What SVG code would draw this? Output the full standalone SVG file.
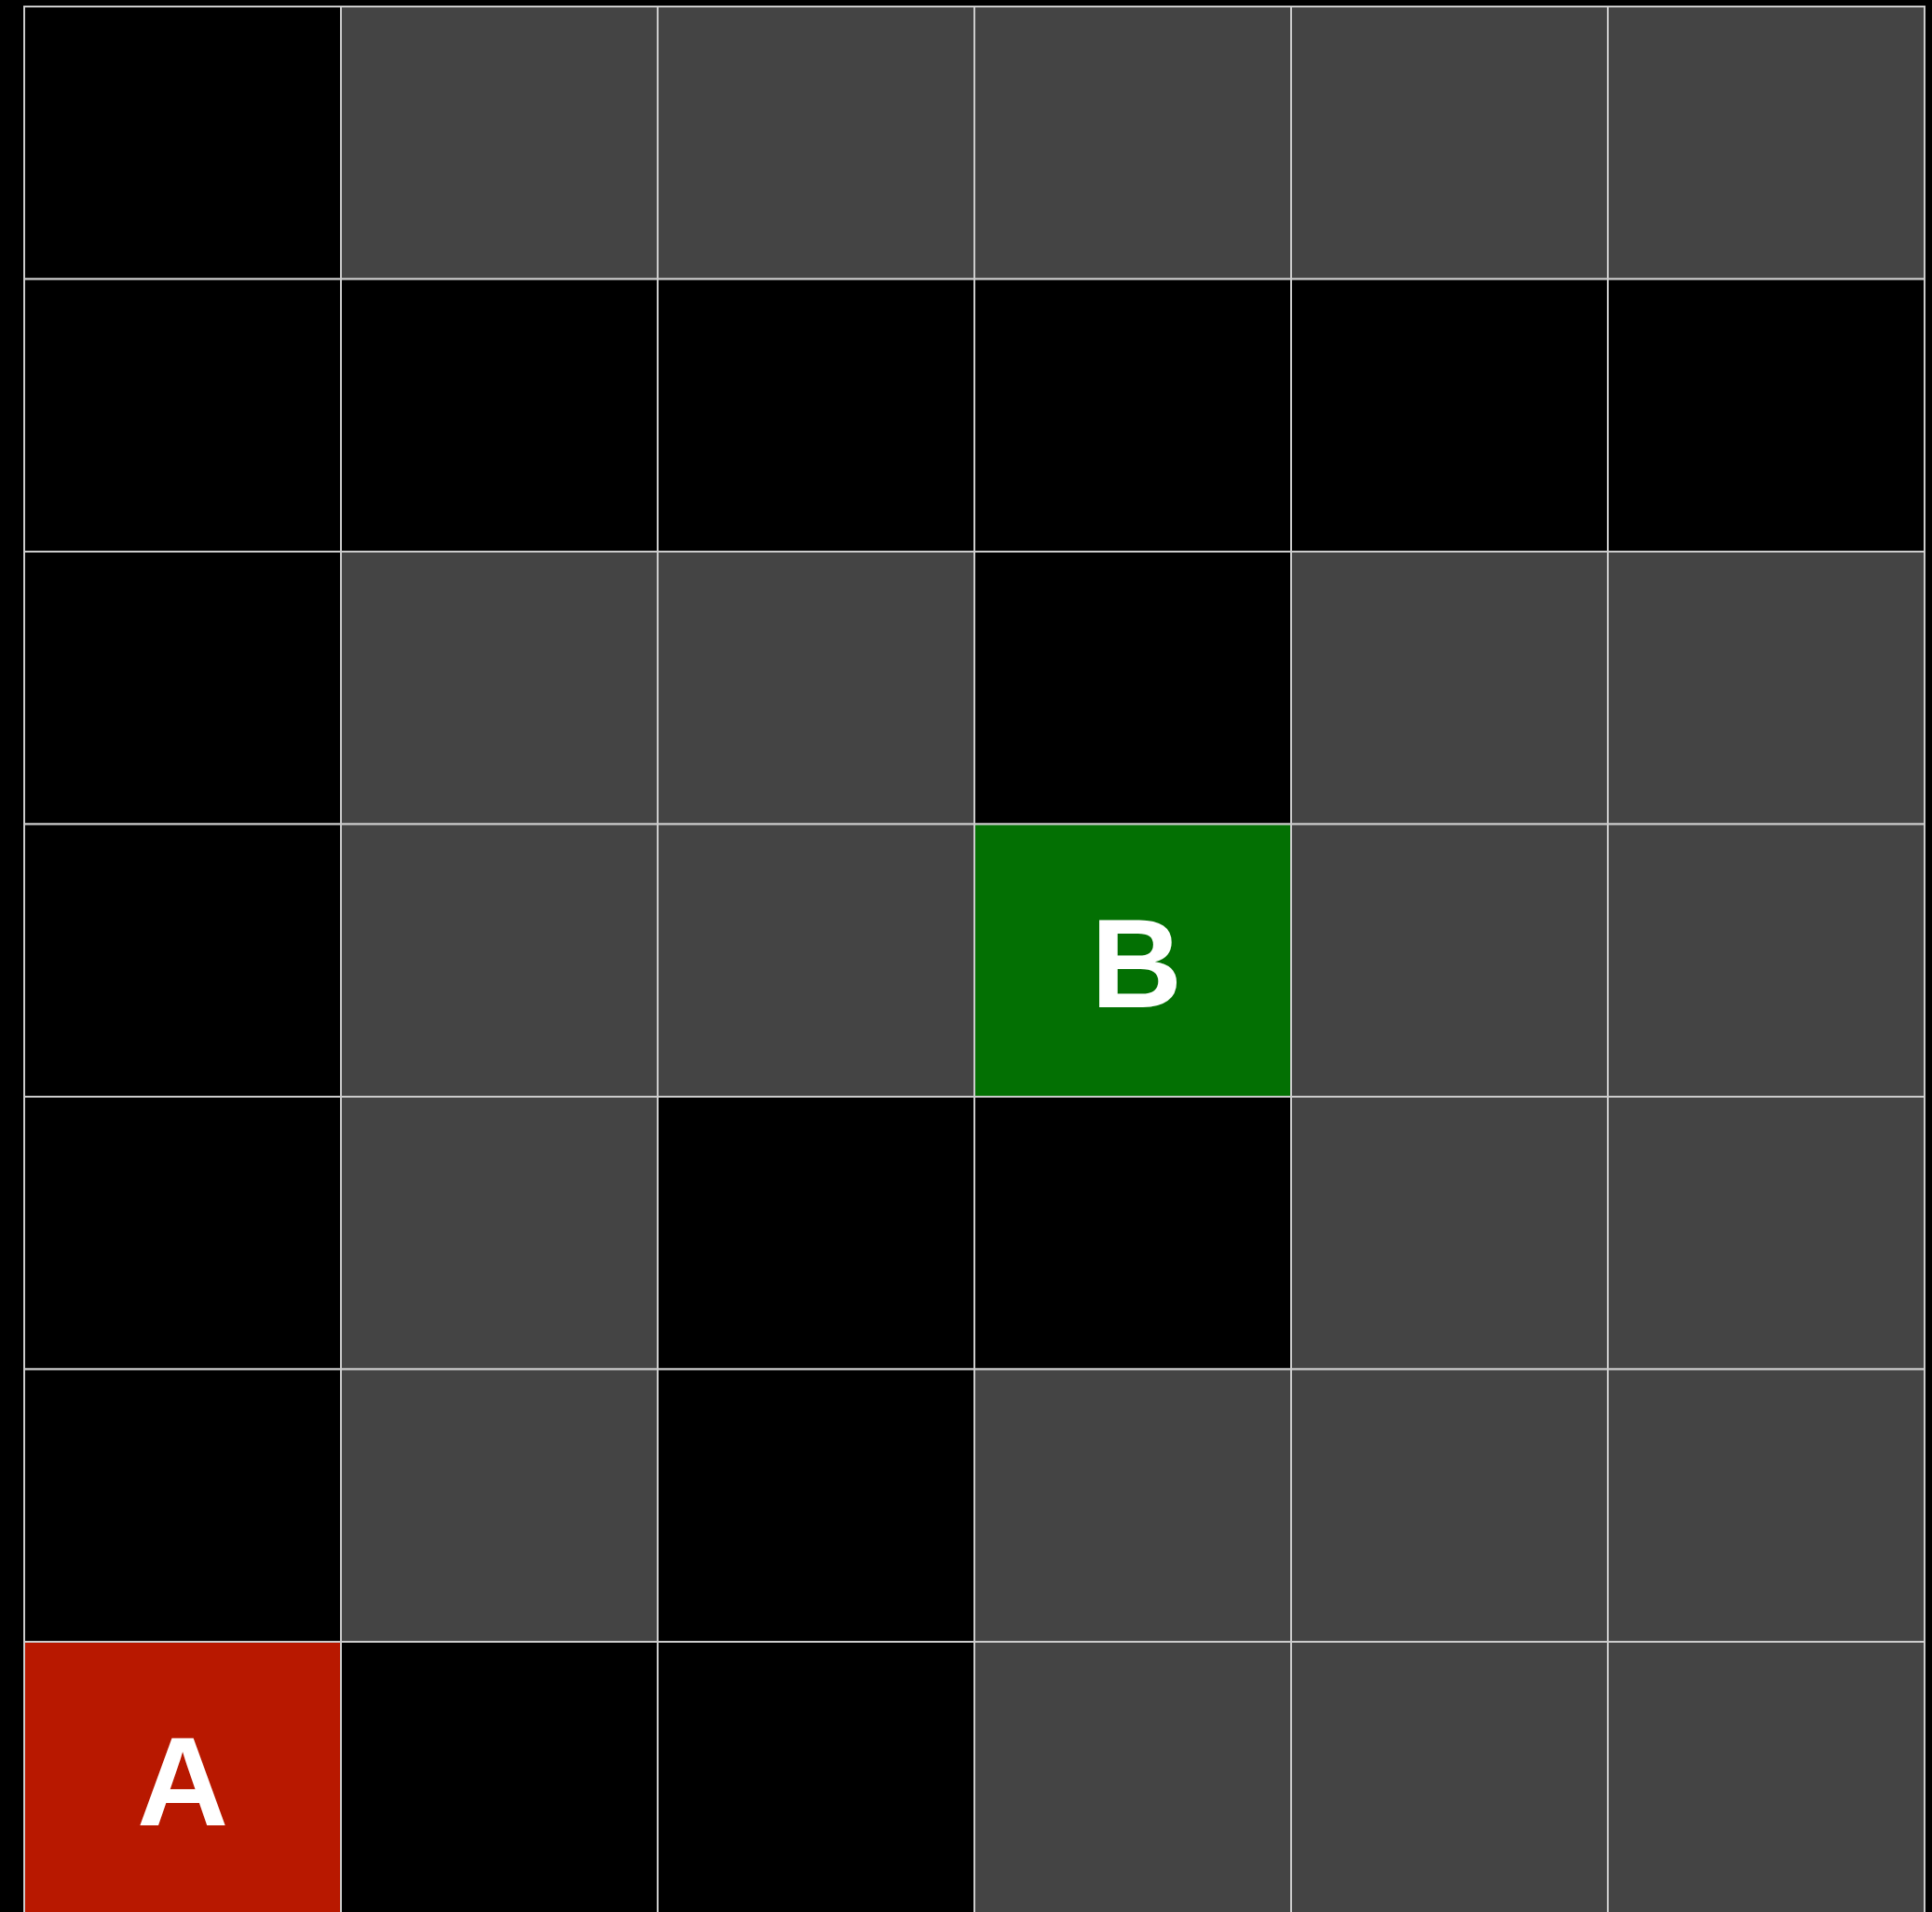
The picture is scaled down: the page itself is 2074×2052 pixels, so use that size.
<svg xmlns="http://www.w3.org/2000/svg" width="2074" height="2052" viewBox="0 0 2074 2052">
<style>
.c{stroke:#cccccc;stroke-width:2}
.k{fill:#000000}
.g{fill:#444444}
.r{fill:#b81800}
.gr{fill:#037003}
.t{font-family:"Liberation Sans",Arial,sans-serif;font-weight:bold;font-size:136px;fill:#ffffff;text-anchor:middle}
</style>
<rect x="0" y="0" width="2074" height="2052" fill="#000000"/>
<g id="row0">
<rect class="c k" x="26" y="7" width="340" height="292.5"/>
<rect class="c g" x="366" y="7" width="340" height="292.5"/>
<rect class="c g" x="706" y="7" width="340" height="292.5"/>
<rect class="c g" x="1046" y="7" width="340" height="292.5"/>
<rect class="c g" x="1386" y="7" width="340" height="292.5"/>
<rect class="c g" x="1726" y="7" width="340" height="292.5"/>
</g>
<g id="row1">
<rect class="c k" x="26" y="299.5" width="340" height="292.5"/>
<rect class="c k" x="366" y="299.5" width="340" height="292.5"/>
<rect class="c k" x="706" y="299.5" width="340" height="292.5"/>
<rect class="c k" x="1046" y="299.5" width="340" height="292.5"/>
<rect class="c k" x="1386" y="299.5" width="340" height="292.5"/>
<rect class="c k" x="1726" y="299.5" width="340" height="292.5"/>
</g>
<g id="row2">
<rect class="c k" x="26" y="592" width="340" height="292.5"/>
<rect class="c g" x="366" y="592" width="340" height="292.5"/>
<rect class="c g" x="706" y="592" width="340" height="292.5"/>
<rect class="c k" x="1046" y="592" width="340" height="292.5"/>
<rect class="c g" x="1386" y="592" width="340" height="292.5"/>
<rect class="c g" x="1726" y="592" width="340" height="292.5"/>
</g>
<g id="row3">
<rect class="c k" x="26" y="884.5" width="340" height="292.5"/>
<rect class="c g" x="366" y="884.5" width="340" height="292.5"/>
<rect class="c g" x="706" y="884.5" width="340" height="292.5"/>
<rect class="c g" x="1386" y="884.5" width="340" height="292.5"/>
<rect class="c g" x="1726" y="884.5" width="340" height="292.5"/>
</g>
<g id="nodeB">
<rect class="c gr" x="1046" y="884.5" width="340" height="292.5"/>
<text class="t" x="1220" y="1081">B</text>
</g>
<g id="row4">
<rect class="c k" x="26" y="1177" width="340" height="292.5"/>
<rect class="c g" x="366" y="1177" width="340" height="292.5"/>
<rect class="c k" x="706" y="1177" width="340" height="292.5"/>
<rect class="c k" x="1046" y="1177" width="340" height="292.5"/>
<rect class="c g" x="1386" y="1177" width="340" height="292.5"/>
<rect class="c g" x="1726" y="1177" width="340" height="292.5"/>
</g>
<g id="row5">
<rect class="c k" x="26" y="1469.5" width="340" height="292.5"/>
<rect class="c g" x="366" y="1469.5" width="340" height="292.5"/>
<rect class="c k" x="706" y="1469.5" width="340" height="292.5"/>
<rect class="c g" x="1046" y="1469.5" width="340" height="292.5"/>
<rect class="c g" x="1386" y="1469.5" width="340" height="292.5"/>
<rect class="c g" x="1726" y="1469.5" width="340" height="292.5"/>
</g>
<g id="row6">
<rect class="c k" x="366" y="1762" width="340" height="292.5"/>
<rect class="c k" x="706" y="1762" width="340" height="292.5"/>
<rect class="c g" x="1046" y="1762" width="340" height="292.5"/>
<rect class="c g" x="1386" y="1762" width="340" height="292.5"/>
<rect class="c g" x="1726" y="1762" width="340" height="292.5"/>
</g>
<g id="nodeA">
<rect class="c r" x="26" y="1762" width="340" height="292.5"/>
<text class="t" x="196" y="1959">A</text>
</g>
<g id="connectors"></g>
</svg>
